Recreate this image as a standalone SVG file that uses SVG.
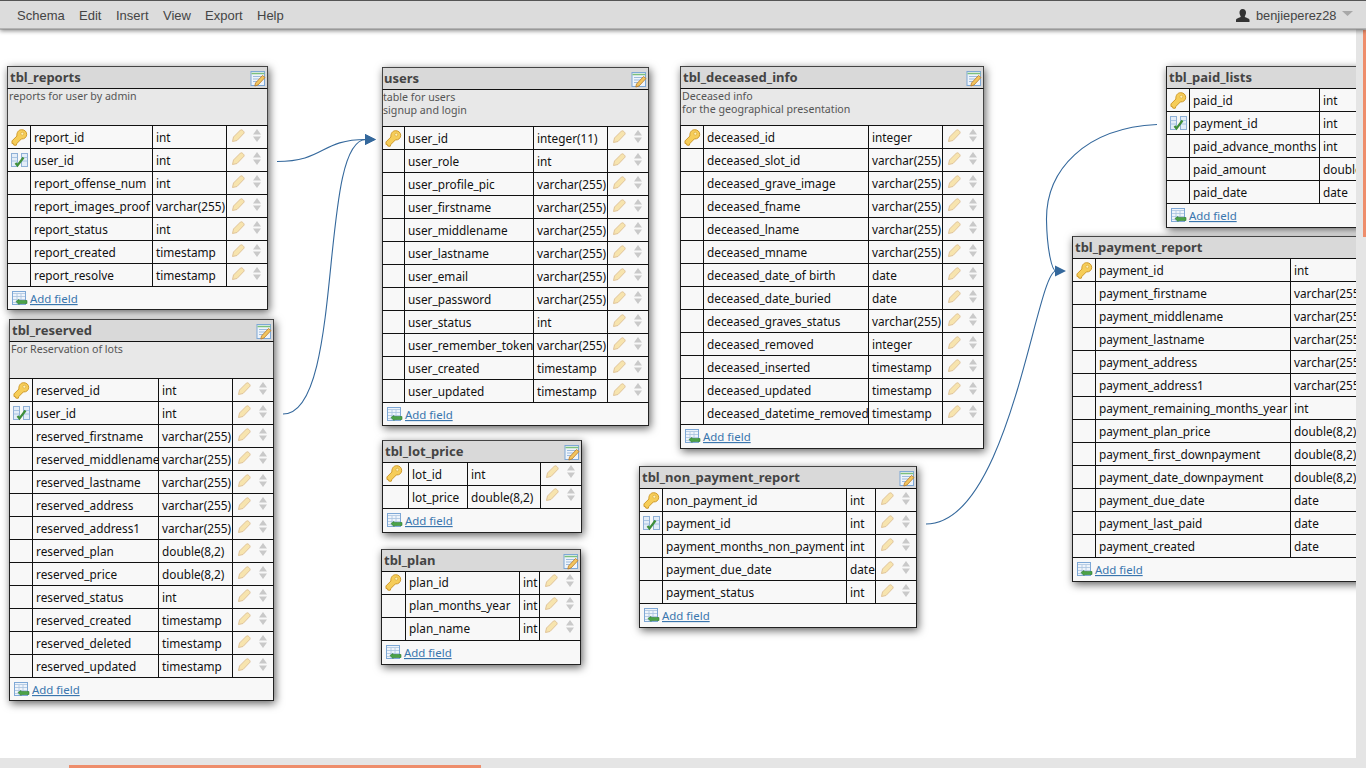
<svg xmlns="http://www.w3.org/2000/svg" width="1366" height="768" viewBox="0 0 1366 768">
<style>
text{font-family:"Noto Sans","Open Sans",sans-serif;font-size:11.8px;fill:#111}
.t{font-size:13px;font-weight:700;fill:#444}
.d{font-size:10.65px;fill:#555}
.a{font-size:11.45px;fill:#3a76ae;text-decoration:underline}
.m{font-family:"Liberation Sans",Arial,sans-serif;font-size:13px;fill:#444}
.box{fill:#f8f8f8;stroke:#222;stroke-width:1;filter:url(#sh)}
.tb{fill:#d9d9d9}
.db{fill:#e8e8e8}
.ln{fill:none;stroke:#111;stroke-width:1}
.hl{fill:none;stroke:#444;stroke-width:1}
.c{fill:none;stroke:#34689c;stroke-width:1.1;marker-end:url(#ah)}
.c0{fill:none;stroke:#34689c;stroke-width:1.1}
</style>
<defs>
<filter id="sh" x="-10%" y="-10%" width="125%" height="125%"><feDropShadow dx="1.500" dy="2.500" stdDeviation="4.500" flood-color="#000" flood-opacity=".62"/></filter>
<filter id="hs" x="-1%" y="-20%" width="102%" height="160%"><feDropShadow dx="0" dy="2" stdDeviation="2" flood-color="#000" flood-opacity=".45"/></filter>
<marker id="ah" markerUnits="userSpaceOnUse" markerWidth="12" markerHeight="14" refX="1" refY="6" orient="auto"><path d="M0 0.500L11 6L0 11.500Z" fill="#34689c"/></marker>
<g id="key">
<path d="M10.600 .7c3 0 5.100 2 5.100 4.600 0 3-2.500 5-5.300 4.600L6 14.300l-.8 2-2.400-.2-.3-1.400L1 14.500l0-2.600L5.900 7C5.500 3.400 7.700 .7 10.600 .7z" fill="#f6cd58" stroke="#cf9a2c" stroke-width="1"/>
<circle cx="11.300" cy="4.700" r="1.500" fill="#fff0b5" stroke="#d9a93c" stroke-width=".7"/>
</g>
<g id="fk">
<rect x=".5" y=".5" width="6" height="13" fill="#e3edf8" stroke="#8fb0d6"/>
<rect x="10.500" y=".5" width="6" height="13" fill="#e3edf8" stroke="#8fb0d6"/>
<path d="M.5 4.500h6M.5 8h6M10.500 4.500h6M10.500 8h6" stroke="#9dbbdd" stroke-width=".8"/>
<path d="M4.500 10l2 2.500 6-8" fill="none" stroke="#3f8f3a" stroke-width="2.200"/>
</g>
<g id="ctl">
<path d="M.5 12.500L1.500 8L8.500 1C9.800 0 12.800 2.800 12 4.200L5 11.500Z" fill="#f7e4ae" stroke="#e0c49a" stroke-width="1"/>
<path d="M21 5.500l4-5.500 4 5.500zM21 7.500l4 5.500 4-5.500z" fill="#c9c9c9"/>
</g>
<g id="ed">
<rect x=".5" y=".5" width="13.500" height="14" fill="#eef4fb" stroke="#7ea8d6"/>
<path d="M1 2.500h13" stroke="#7cc07c" stroke-width="1.500"/>
<path d="M2.500 5.500h9M2.500 8h9M2.500 10.500h6" stroke="#9dbbdd" stroke-width="1"/>
<path d="M5 12l7-7.500 2.500 2-7 7.500-3.200 1z" fill="#f2c55e" stroke="#b8792a" stroke-width=".8"/>
</g>
<g id="add">
<rect x=".5" y=".5" width="13" height="13" fill="#eef4fb" stroke="#7ea8d6"/>
<path d="M1 2.500h12M1 5.500h12M1 8.500h12M1 11.500h12M5 3v10M9 3v10" stroke="#a8c3e0" stroke-width=".8"/>
<path d="M4 10.500L7 8.500v1H15v3H7v1z" fill="#4aa348" stroke="#2d7a2d" stroke-width=".6"/>
</g>
</defs>
<rect width="1366" height="768" fill="#fff"/>

<g id="connectors">
<path class="c" d="M277 161.500C325 161.500 320 139.500 366 139.500"/>
<path class="c" d="M283 414C345 414 318 139.500 366 139.500"/>
<path class="c0" d="M1157 124.500C1085 128 1046 170 1046.500 220C1047 250 1052 271 1056 271"/>
<path class="c" d="M926 524C1010 524 1036 271 1056 271"/>
</g>

<g id="tbl_reports">
<rect class="box" x="7.500" y="66.500" width="260" height="243"/>
<rect class="tb" x="8" y="67" width="259" height="21"/><rect class="db" x="8" y="89" width="259" height="36"/>
<path class="hl" d="M7.500 66.500H267.500M7.500 66.500V125M267.500 66.500V125"/>
<path class="ln" d="M7.500 88.500H267.500M7.500 125.500H267.500M7.500 148.500H267.500M7.500 171.500H267.500M7.500 194.500H267.500M7.500 217.500H267.500M7.500 240.500H267.500M7.500 263.500H267.500M7.500 286.500H267.500M30.500 125.500V286.500M152.500 125.500V286.500M226.500 125.500V286.500"/>
<text class="t" x="10" y="82">tbl_reports</text><use href="#ed" x="250.500" y="71"/>
<text class="d" x="9" y="100">reports for user by admin</text>
<use href="#key" x="11" y="129"/><use href="#fk" x="11" y="153"/>
<text x="34" y="142">report_id</text><text x="156" y="142">int</text><use href="#ctl" x="232" y="129"/>
<text x="34" y="165">user_id</text><text x="156" y="165">int</text><use href="#ctl" x="232" y="152"/>
<text x="34" y="188">report_offense_num</text><text x="156" y="188">int</text><use href="#ctl" x="232" y="175"/>
<text x="34" y="211">report_images_proof</text><text x="156" y="211">varchar(255)</text><use href="#ctl" x="232" y="198"/>
<text x="34" y="234">report_status</text><text x="156" y="234">int</text><use href="#ctl" x="232" y="221"/>
<text x="34" y="257">report_created</text><text x="156" y="257">timestamp</text><use href="#ctl" x="232" y="244"/>
<text x="34" y="280">report_resolve</text><text x="156" y="280">timestamp</text><use href="#ctl" x="232" y="267"/>
<use href="#add" x="12" y="291"/><text class="a" x="30" y="303">Add field</text>
</g>

<g id="tbl_reserved">
<rect class="box" x="9.500" y="319.500" width="264" height="381"/>
<rect class="tb" x="10" y="320" width="263" height="21"/><rect class="db" x="10" y="342" width="263" height="36"/>
<path class="hl" d="M9.500 319.500H273.500M9.500 319.500V378M273.500 319.500V378"/>
<path class="ln" d="M9.500 341.500H273.500M9.500 378.500H273.500M9.500 401.500H273.500M9.500 424.500H273.500M9.500 447.500H273.500M9.500 470.500H273.500M9.500 493.500H273.500M9.500 516.500H273.500M9.500 539.500H273.500M9.500 562.500H273.500M9.500 585.500H273.500M9.500 608.500H273.500M9.500 631.500H273.500M9.500 654.500H273.500M9.500 677.500H273.500M32.500 378.500V677.500M158.500 378.500V677.500M232.500 378.500V677.500"/>
<text class="t" x="12" y="335">tbl_reserved</text><use href="#ed" x="256.500" y="324"/>
<text class="d" x="11" y="353">For Reservation of lots</text>
<use href="#key" x="13" y="382"/><use href="#fk" x="13" y="406"/>
<text x="36" y="395">reserved_id</text><text x="162" y="395">int</text><use href="#ctl" x="238" y="382"/>
<text x="36" y="418">user_id</text><text x="162" y="418">int</text><use href="#ctl" x="238" y="405"/>
<text x="36" y="441">reserved_firstname</text><text x="162" y="441">varchar(255)</text><use href="#ctl" x="238" y="428"/>
<text x="36" y="464">reserved_middlename</text><text x="162" y="464">varchar(255)</text><use href="#ctl" x="238" y="451"/>
<text x="36" y="487">reserved_lastname</text><text x="162" y="487">varchar(255)</text><use href="#ctl" x="238" y="474"/>
<text x="36" y="510">reserved_address</text><text x="162" y="510">varchar(255)</text><use href="#ctl" x="238" y="497"/>
<text x="36" y="533">reserved_address1</text><text x="162" y="533">varchar(255)</text><use href="#ctl" x="238" y="520"/>
<text x="36" y="556">reserved_plan</text><text x="162" y="556">double(8,2)</text><use href="#ctl" x="238" y="543"/>
<text x="36" y="579">reserved_price</text><text x="162" y="579">double(8,2)</text><use href="#ctl" x="238" y="566"/>
<text x="36" y="602">reserved_status</text><text x="162" y="602">int</text><use href="#ctl" x="238" y="589"/>
<text x="36" y="625">reserved_created</text><text x="162" y="625">timestamp</text><use href="#ctl" x="238" y="612"/>
<text x="36" y="648">reserved_deleted</text><text x="162" y="648">timestamp</text><use href="#ctl" x="238" y="635"/>
<text x="36" y="671">reserved_updated</text><text x="162" y="671">timestamp</text><use href="#ctl" x="238" y="658"/>
<use href="#add" x="14" y="682"/><text class="a" x="32" y="694">Add field</text>
</g>

<g id="users">
<rect class="box" x="382.500" y="67.500" width="266" height="358"/>
<rect class="tb" x="383" y="68" width="265" height="21"/><rect class="db" x="383" y="90" width="265" height="36"/>
<path class="hl" d="M382.500 67.500H648.500M382.500 67.500V126M648.500 67.500V126"/>
<path class="ln" d="M382.500 89.500H648.500M382.500 126.500H648.500M382.500 149.500H648.500M382.500 172.500H648.500M382.500 195.500H648.500M382.500 218.500H648.500M382.500 241.500H648.500M382.500 264.500H648.500M382.500 287.500H648.500M382.500 310.500H648.500M382.500 333.500H648.500M382.500 356.500H648.500M382.500 379.500H648.500M382.500 402.500H648.500M404.500 126.500V402.500M533.500 126.500V402.500M607.500 126.500V402.500"/>
<text class="t" x="384" y="83">users</text><use href="#ed" x="631.500" y="72"/>
<text class="d" x="383" y="101">table for users</text><text class="d" x="383" y="114">signup and login</text>
<use href="#key" x="385" y="130"/>
<text x="408" y="143">user_id</text><text x="537" y="143">integer(11)</text><use href="#ctl" x="613" y="130"/>
<text x="408" y="166">user_role</text><text x="537" y="166">int</text><use href="#ctl" x="613" y="153"/>
<text x="408" y="189">user_profile_pic</text><text x="537" y="189">varchar(255)</text><use href="#ctl" x="613" y="176"/>
<text x="408" y="212">user_firstname</text><text x="537" y="212">varchar(255)</text><use href="#ctl" x="613" y="199"/>
<text x="408" y="235">user_middlename</text><text x="537" y="235">varchar(255)</text><use href="#ctl" x="613" y="222"/>
<text x="408" y="258">user_lastname</text><text x="537" y="258">varchar(255)</text><use href="#ctl" x="613" y="245"/>
<text x="408" y="281">user_email</text><text x="537" y="281">varchar(255)</text><use href="#ctl" x="613" y="268"/>
<text x="408" y="304">user_password</text><text x="537" y="304">varchar(255)</text><use href="#ctl" x="613" y="291"/>
<text x="408" y="327">user_status</text><text x="537" y="327">int</text><use href="#ctl" x="613" y="314"/>
<text x="408" y="350">user_remember_token</text><text x="537" y="350">varchar(255)</text><use href="#ctl" x="613" y="337"/>
<text x="408" y="373">user_created</text><text x="537" y="373">timestamp</text><use href="#ctl" x="613" y="360"/>
<text x="408" y="396">user_updated</text><text x="537" y="396">timestamp</text><use href="#ctl" x="613" y="383"/>
<use href="#add" x="387" y="407"/><text class="a" x="405" y="419">Add field</text>
</g>

<g id="tbl_lot_price">
<rect class="box" x="382.500" y="440.500" width="199" height="92"/>
<rect class="tb" x="383" y="441" width="198" height="21"/>
<path class="hl" d="M382.500 440.500H581.500"/>
<path class="ln" d="M382.500 462.500H581.500M382.500 485.500H581.500M382.500 508.500H581.500M408.500 462.500V508.500M467.500 462.500V508.500M540.500 462.500V508.500"/>
<text class="t" x="385" y="456">tbl_lot_price</text><use href="#ed" x="564.500" y="445"/>
<use href="#key" x="386" y="465"/>
<text x="412" y="479">lot_id</text><text x="471" y="479">int</text><use href="#ctl" x="546" y="465"/>
<text x="412" y="502">lot_price</text><text x="471" y="502">double(8,2)</text><use href="#ctl" x="546" y="488"/>
<use href="#add" x="387" y="513"/><text class="a" x="405" y="525">Add field</text>
</g>

<g id="tbl_plan">
<rect class="box" x="381.500" y="549.500" width="199" height="115"/>
<rect class="tb" x="382" y="550" width="198" height="21"/>
<path class="hl" d="M381.500 549.500H580.500"/>
<path class="ln" d="M381.500 571.500H580.500M381.500 594.500H580.500M381.500 617.500H580.500M381.500 640.500H580.500M405.500 571.500V640.500M519.500 571.500V640.500M539.500 571.500V640.500"/>
<text class="t" x="384" y="565">tbl_plan</text><use href="#ed" x="563.500" y="554"/>
<use href="#key" x="385" y="574"/>
<text x="409" y="587">plan_id</text><text x="523" y="587">int</text><use href="#ctl" x="545" y="574"/>
<text x="409" y="610">plan_months_year</text><text x="523" y="610">int</text><use href="#ctl" x="545" y="597"/>
<text x="409" y="633">plan_name</text><text x="523" y="633">int</text><use href="#ctl" x="545" y="620"/>
<use href="#add" x="386" y="645"/><text class="a" x="404" y="657">Add field</text>
</g>

<g id="tbl_deceased_info">
<rect class="box" x="680.500" y="66.500" width="303" height="382"/>
<rect class="tb" x="681" y="67" width="302" height="21"/><rect class="db" x="681" y="89" width="302" height="36"/>
<path class="hl" d="M680.500 66.500H983.500M680.500 66.500V125M983.500 66.500V125"/>
<path class="ln" d="M680.500 88.500H983.500M680.500 125.500H983.500M680.500 148.500H983.500M680.500 171.500H983.500M680.500 194.500H983.500M680.500 217.500H983.500M680.500 240.500H983.500M680.500 263.500H983.500M680.500 286.500H983.500M680.500 309.500H983.500M680.500 332.500H983.500M680.500 355.500H983.500M680.500 378.500H983.500M680.500 401.500H983.500M680.500 424.500H983.500M703.500 125.500V424.500M868.500 125.500V424.500M942.500 125.500V424.500"/>
<text class="t" x="683" y="82">tbl_deceased_info</text><use href="#ed" x="966.500" y="71"/>
<text class="d" x="682" y="100">Deceased info</text><text class="d" x="682" y="113">for the geographical presentation</text>
<use href="#key" x="684" y="129"/>
<text x="707" y="142">deceased_id</text><text x="872" y="142">integer</text><use href="#ctl" x="948" y="129"/>
<text x="707" y="165">deceased_slot_id</text><text x="872" y="165">varchar(255)</text><use href="#ctl" x="948" y="152"/>
<text x="707" y="188">deceased_grave_image</text><text x="872" y="188">varchar(255)</text><use href="#ctl" x="948" y="175"/>
<text x="707" y="211">deceased_fname</text><text x="872" y="211">varchar(255)</text><use href="#ctl" x="948" y="198"/>
<text x="707" y="234">deceased_lname</text><text x="872" y="234">varchar(255)</text><use href="#ctl" x="948" y="221"/>
<text x="707" y="257">deceased_mname</text><text x="872" y="257">varchar(255)</text><use href="#ctl" x="948" y="244"/>
<text x="707" y="280">deceased_date_of birth</text><text x="872" y="280">date</text><use href="#ctl" x="948" y="267"/>
<text x="707" y="303">deceased_date_buried</text><text x="872" y="303">date</text><use href="#ctl" x="948" y="290"/>
<text x="707" y="326">deceased_graves_status</text><text x="872" y="326">varchar(255)</text><use href="#ctl" x="948" y="313"/>
<text x="707" y="349">deceased_removed</text><text x="872" y="349">integer</text><use href="#ctl" x="948" y="336"/>
<text x="707" y="372">deceased_inserted</text><text x="872" y="372">timestamp</text><use href="#ctl" x="948" y="359"/>
<text x="707" y="395">deceased_updated</text><text x="872" y="395">timestamp</text><use href="#ctl" x="948" y="382"/>
<text x="707" y="418">deceased_datetime_removed</text><text x="872" y="418">timestamp</text><use href="#ctl" x="948" y="405"/>
<use href="#add" x="685" y="429"/><text class="a" x="703" y="441">Add field</text>
</g>

<g id="tbl_non_payment_report">
<rect class="box" x="639.500" y="466.500" width="277" height="161"/>
<rect class="tb" x="640" y="467" width="276" height="21"/>
<path class="hl" d="M639.500 466.500H916.500"/>
<path class="ln" d="M639.500 488.500H916.500M639.500 511.500H916.500M639.500 534.500H916.500M639.500 557.500H916.500M639.500 580.500H916.500M639.500 603.500H916.500M662.500 488.500V603.500M846.500 488.500V603.500M875.500 488.500V603.500"/>
<text class="t" x="642" y="482">tbl_non_payment_report</text><use href="#ed" x="899.500" y="471"/>
<use href="#key" x="643" y="492"/><use href="#fk" x="643" y="516"/>
<text x="666" y="505">non_payment_id</text><text x="850" y="505">int</text><use href="#ctl" x="881" y="492"/>
<text x="666" y="528">payment_id</text><text x="850" y="528">int</text><use href="#ctl" x="881" y="515"/>
<text x="666" y="551">payment_months_non_payment</text><text x="850" y="551">int</text><use href="#ctl" x="881" y="538"/>
<text x="666" y="574">payment_due_date</text><text x="850" y="574">date</text><use href="#ctl" x="881" y="561"/>
<text x="666" y="597">payment_status</text><text x="850" y="597">int</text><use href="#ctl" x="881" y="584"/>
<use href="#add" x="644" y="608"/><text class="a" x="662" y="620">Add field</text>
</g>

<g id="tbl_paid_lists">
<rect class="box" x="1166.500" y="66.500" width="230" height="161"/>
<rect class="tb" x="1167" y="67" width="229" height="21"/>
<path class="hl" d="M1166.500 66.500H1396"/>
<path class="ln" d="M1166.500 88.500H1396M1166.500 111.500H1396M1166.500 134.500H1396M1166.500 157.500H1396M1166.500 180.500H1396M1166.500 203.500H1396M1189.500 88.500V203.500M1319.500 88.500V203.500"/>
<text class="t" x="1169" y="82">tbl_paid_lists</text>
<use href="#key" x="1170" y="92"/><use href="#fk" x="1170" y="116"/>
<text x="1193" y="105">paid_id</text><text x="1323" y="105">int</text>
<text x="1193" y="128">payment_id</text><text x="1323" y="128">int</text>
<text x="1193" y="151">paid_advance_months</text><text x="1323" y="151">int</text>
<text x="1193" y="174">paid_amount</text><text x="1323" y="174">double</text>
<text x="1193" y="197">paid_date</text><text x="1323" y="197">date</text>
<use href="#add" x="1171" y="208"/><text class="a" x="1189" y="220">Add field</text>
</g>

<g id="tbl_payment_report">
<rect class="box" x="1072.500" y="236.500" width="330" height="345"/>
<rect class="tb" x="1073" y="237" width="329" height="21"/>
<path class="hl" d="M1072.500 236.500H1402"/>
<path class="ln" d="M1072.500 258.500H1402M1072.500 281.500H1402M1072.500 304.500H1402M1072.500 327.500H1402M1072.500 350.500H1402M1072.500 373.500H1402M1072.500 396.500H1402M1072.500 419.500H1402M1072.500 442.500H1402M1072.500 465.500H1402M1072.500 488.500H1402M1072.500 511.500H1402M1072.500 534.500H1402M1072.500 557.500H1402M1095.500 258.500V557.500M1290.500 258.500V557.500"/>
<text class="t" x="1075" y="252">tbl_payment_report</text>
<use href="#key" x="1076" y="262"/>
<text x="1099" y="275">payment_id</text><text x="1294" y="275">int</text>
<text x="1099" y="298">payment_firstname</text><text x="1294" y="298">varchar(255)</text>
<text x="1099" y="321">payment_middlename</text><text x="1294" y="321">varchar(255)</text>
<text x="1099" y="344">payment_lastname</text><text x="1294" y="344">varchar(255)</text>
<text x="1099" y="367">payment_address</text><text x="1294" y="367">varchar(255)</text>
<text x="1099" y="390">payment_address1</text><text x="1294" y="390">varchar(255)</text>
<text x="1099" y="413">payment_remaining_months_year</text><text x="1294" y="413">int</text>
<text x="1099" y="436">payment_plan_price</text><text x="1294" y="436">double(8,2)</text>
<text x="1099" y="459">payment_first_downpayment</text><text x="1294" y="459">double(8,2)</text>
<text x="1099" y="482">payment_date_downpayment</text><text x="1294" y="482">double(8,2)</text>
<text x="1099" y="505">payment_due_date</text><text x="1294" y="505">date</text>
<text x="1099" y="528">payment_last_paid</text><text x="1294" y="528">date</text>
<text x="1099" y="551">payment_created</text><text x="1294" y="551">date</text>
<use href="#add" x="1077" y="562"/><text class="a" x="1095" y="574">Add field</text>
</g>

<g id="scrollbars">
<rect x="1356" y="29" width="10" height="739" fill="#e5e5e5"/>
<rect x="1363" y="30" width="3" height="207" fill="#ee8d6b"/>
<rect x="0" y="758" width="1366" height="10" fill="#e5e5e5"/>
<rect x="69" y="765" width="412" height="3" fill="#ee8d6b"/>
</g>

<g id="menubar">
<rect x="0" y="0" width="1366" height="29" fill="#dcdcdc" filter="url(#hs)"/>
<path d="M0 .5H1366" stroke="#555" stroke-width="1"/>
<path d="M0 29H1366" stroke="#8a8a8a" stroke-width="1"/>
<text class="m" x="17" y="20">Schema</text>
<text class="m" x="79" y="20">Edit</text>
<text class="m" x="116" y="20">Insert</text>
<text class="m" x="163" y="20">View</text>
<text class="m" x="205" y="20">Export</text>
<text class="m" x="257" y="20">Help</text>
<path d="M1242.500 9c2.500 0 3.700 1.800 3.500 4-.1 1.600-1 2.800-1.300 3.600 0 1 3.800 1.400 4.800 3.100v2.300h-13.500v-2.300c1-1.700 4.800-2.100 4.800-3.100-.3-.8-1.200-2-1.300-3.600-.2-2.200 1-4 3-4z" fill="#333"/>
<text class="m" x="1256" y="20" style="font-size:12.800px">benjieperez28</text>
<path d="M1342 11H1353L1347.500 16Z" fill="#a8a8a8"/>
</g>
</svg>
